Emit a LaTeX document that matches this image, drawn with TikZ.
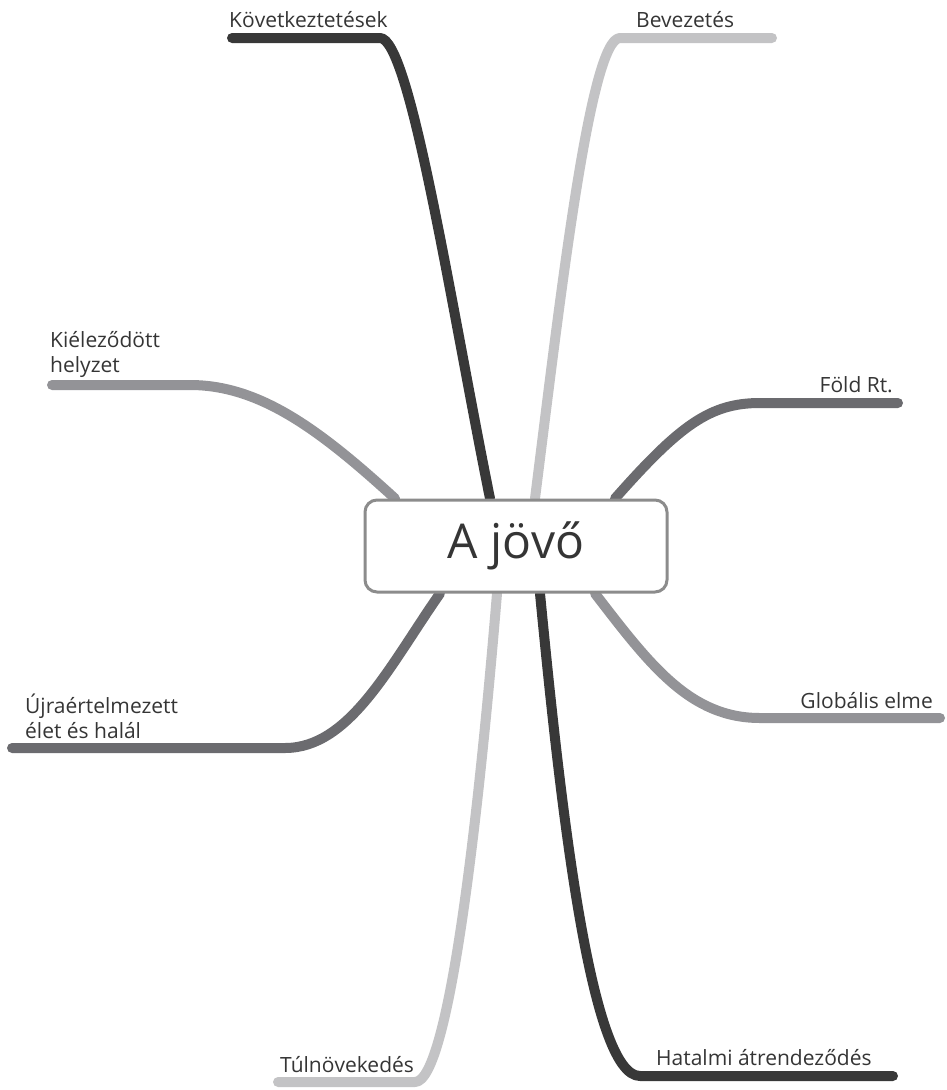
\documentclass[tikz,border=0pt]{standalone}
\usepackage{fontspec}
\setmainfont{Open Sans}
\usetikzlibrary{backgrounds}

\definecolor{branchdark}{HTML}{383838}
\definecolor{branchmid}{HTML}{6B6B6F}
\definecolor{branchgrey}{HTML}{939397}
\definecolor{branchlight}{HTML}{C3C3C5}
\definecolor{boxline}{HTML}{8C8C8C}
\definecolor{labeltext}{HTML}{353535}

\tikzset{
  branch/.style={line width=10pt, line cap=round, line join=round},
  topic/.style={font=\fontsize{21}{25}\selectfont, text=labeltext, inner sep=0pt, align=left},
  centre/.style={draw=boxline, line width=3pt, rounded corners=12pt, fill=white,
    minimum width=302pt, minimum height=92pt, font=\fontsize{48}{52}\selectfont, text=labeltext},
}

\begin{document}
\begin{tikzpicture}[x=1pt,y=-1pt]
  \useasboundingbox (0,0) rectangle (946,1090);

  % Central topic
  \node[centre] (jovo) at (516,546) {A jövő};

  % Ends of the branches
  \coordinate (kovend) at (232,38);
  \coordinate (bevend) at (772,38);
  \coordinate (foldend) at (898,403);
  \coordinate (kielend) at (52,385);
  \coordinate (ujraend) at (12,748);
  \coordinate (globend) at (940,718);
  \coordinate (tulend) at (278,1082);
  \coordinate (hatend) at (893,1076);

  \begin{scope}[on background layer]
    % Branch Következtetések
    \draw[branch, branchdark] ([xshift=-26pt]jovo.north) .. controls (450,300) and (410,38) .. (380,38) -- (kovend);
    % Branch Bevezetés
    \draw[branch, branchlight] ([xshift=19pt]jovo.north) .. controls (560,300) and (590,38) .. (620,38) -- (bevend);
    % Branch Föld Rt.
    \draw[branch, branchmid] ([xshift=99pt]jovo.north) .. controls (680,425) and (710,403) .. (760,403) -- (foldend);
    % Branch Kiéleződött helyzet
    \draw[branch, branchgrey] ([xshift=-121pt]jovo.north) .. controls (320,430) and (260,385) .. (190,385) -- (kielend);
    % Branch Újraértelmezett élet és halál
    \draw[branch, branchmid] ([xshift=-76pt]jovo.south) .. controls (390,665) and (350,748) .. (285,748) -- (ujraend);
    % Branch Globális elme
    \draw[branch, branchgrey] ([xshift=79pt]jovo.south) .. controls (650,665) and (690,718) .. (760,718) -- (globend);
    % Branch Túlnövekedés
    \draw[branch, branchlight] ([xshift=-19pt]jovo.south) .. controls (480,800) and (450,1082) .. (415,1082) -- (tulend);
    % Branch Hatalmi átrendeződés
    \draw[branch, branchdark] ([xshift=24pt]jovo.south) .. controls (560,800) and (590,1076) .. (640,1076) -- (hatend);
  \end{scope}

  % Labels
  \node[topic, anchor=base west] (kov) at (229,27) {Következtetések};
  \node[topic, anchor=base west] (bev) at (636,27) {Bevezetés};
  \node[topic, anchor=base east] (fold) at (893,392) {Föld Rt.};
  \node[topic, anchor=base west] (kiel) at (50,372) {Kiéleződött\\helyzet};
  \node[topic, anchor=base west] (ujra) at (25,738) {Újraértelmezett\\élet és halál};
  \node[topic, anchor=base east] (glob) at (933,708) {Globális elme};
  \node[topic, anchor=base west] (tul) at (280,1072) {Túlnövekedés};
  \node[topic, anchor=base west] (hat) at (656,1065) {Hatalmi átrendeződés};
\end{tikzpicture}
\end{document}
